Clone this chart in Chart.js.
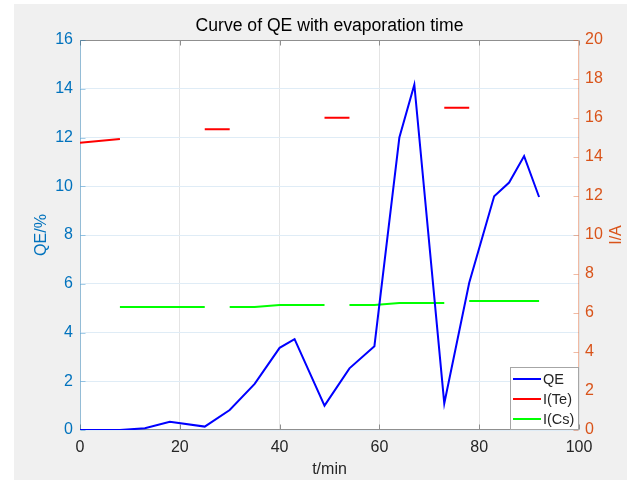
<!DOCTYPE html>
<html>
<head>
<meta charset="utf-8">
<script src="https://cdn.jsdelivr.net/npm/chart.js@4.4.1/dist/chart.umd.min.js"></script>
<style>
  html, body { margin: 0; padding: 0; background: #fff; }
  #wrap { width: 627px; height: 483px; }
</style>
</head>
<body>
<div id="wrap"><canvas id="qe-chart"></canvas></div>
<script>
// values
const qeTime  = [0, 8, 13, 18, 25, 30, 35, 40, 43, 49, 54, 59, 64, 67, 73, 78, 83, 86, 89, 92];
const qeValue = [0, 0, 0.07, 0.34, 0.14, 0.82, 1.89, 3.37, 3.73, 1.0, 2.53, 3.44, 12.0, 14.17, 1.09, 6.04, 9.59, 10.15, 11.24, 9.56];

// null = break in the line
const teTime  = [0, 8, 16, 25, 30, 40, 49, 54, 64, 73, 78];
const teValue = [14.73, 14.92, null, 15.42, 15.42, null, 16.02, 16.02, null, 16.53, 16.53];

const csTime  = [8, 13, 18, 25, 27, 30, 35, 40, 43, 49, 51, 54, 59, 64, 67, 73, 75, 78, 83, 86, 89, 92];
const csValue = [6.31, 6.31, 6.31, 6.31, null, 6.31, 6.31, 6.41, 6.41, 6.41, null, 6.41, 6.41, 6.51, 6.51, 6.51, null, 6.62, 6.62, 6.62, 6.62, 6.62];

const xTicks = [0, 20, 40, 60, 80, 100];
const leftTicks = [0, 2, 4, 6, 8, 10, 12, 14, 16];
const rightTicks = [0, 2, 4, 6, 8, 10, 12, 14, 16, 18, 20];

const leftColor = '#0072BD';
const rightColor = '#D95319';
const axisColor = '#262626';
const fontFamily = '"Liberation Sans", Arial, Helvetica, sans-serif';

const toPoints = (xs, ys) => xs.map((x, i) => ({ x: x, y: ys[i] }));

const figureBackground = {
  id: 'figureBackground',
  beforeDraw(chart) {
    const { ctx, chartArea: a } = chart;
    ctx.save();
    ctx.fillStyle = '#fff';
    ctx.fillRect(0, 0, chart.width, chart.height);
    ctx.fillStyle = '#f0f0f0';
    ctx.fillRect(14, 4, chart.width - 14, 476);
    ctx.fillStyle = '#fff';
    ctx.fillRect(a.left, a.top, a.right - a.left, a.bottom - a.top);
    ctx.restore();
  }
};

// matlab style box with inward ticks, plus the right label
const axesFrame = {
  id: 'axesFrame',
  beforeDatasetsDraw(chart) {
    const { ctx, chartArea: a, scales } = chart;
    const L = Math.round(a.left) + 0.5, R = Math.round(a.right) - 0.5;
    const T = Math.round(a.top) + 0.5, B = Math.round(a.bottom) - 0.5;
    ctx.save();
    ctx.lineWidth = 1;

    ctx.strokeStyle = '#8f8f8f';
    ctx.beginPath();
    ctx.moveTo(L, T); ctx.lineTo(R, T);
    ctx.moveTo(L, B); ctx.lineTo(R, B);
    xTicks.forEach(v => {
      const px = Math.round(scales.x.getPixelForValue(v)) + 0.5;
      ctx.moveTo(px, B); ctx.lineTo(px, B - 5);
      ctx.moveTo(px, T); ctx.lineTo(px, T + 5);
    });
    ctx.stroke();

    ctx.strokeStyle = 'rgba(0,114,189,0.35)';
    ctx.beginPath();
    ctx.moveTo(L, T); ctx.lineTo(L, B);
    leftTicks.forEach(v => {
      const py = Math.round(scales.y.getPixelForValue(v)) + 0.5;
      ctx.moveTo(L, py); ctx.lineTo(L + 5, py);
    });
    ctx.stroke();

    ctx.strokeStyle = 'rgba(217,83,25,0.4)';
    ctx.beginPath();
    ctx.moveTo(R, T); ctx.lineTo(R, B);
    rightTicks.forEach(v => {
      const py = Math.round(scales.y1.getPixelForValue(v)) + 0.5;
      ctx.moveTo(R, py); ctx.lineTo(R - 5, py);
    });
    ctx.stroke();

    // right y title reads bottom to top
    ctx.translate(617, (a.top + a.bottom) / 2);
    ctx.rotate(-Math.PI / 2);
    ctx.fillStyle = rightColor;
    ctx.font = '16px ' + fontFamily;
    ctx.textAlign = 'center';
    ctx.textBaseline = 'middle';
    ctx.fillText('I/A', 0, 0);
    ctx.restore();
  }
};

const insideLegend = {
  id: 'insideLegend',
  afterDatasetsDraw(chart) {
    const { ctx, chartArea: a } = chart;
    const w = 69, h = 63;
    const x0 = a.right - w, y0 = a.bottom - h;
    ctx.save();
    ctx.fillStyle = '#fff';
    ctx.fillRect(x0, y0, w, h);
    ctx.strokeStyle = '#a6a6a6';
    ctx.lineWidth = 1;
    ctx.strokeRect(Math.round(x0) + 0.5, Math.round(y0) + 0.5, w - 1, h - 1);
    ctx.font = '14.5px ' + fontFamily;
    ctx.textBaseline = 'middle';
    ctx.fillStyle = axisColor;
    chart.data.datasets.forEach((ds, i) => {
      const y = y0 + 12 + i * 20;
      ctx.strokeStyle = ds.borderColor;
      ctx.lineWidth = 2;
      ctx.beginPath();
      ctx.moveTo(x0 + 3, y); ctx.lineTo(x0 + 31, y);
      ctx.stroke();
      ctx.fillText(ds.label, x0 + 33, y + 1);
    });
    ctx.restore();
  }
};

const ctx = document.getElementById('qe-chart');

new Chart(ctx, {
  type: 'line',
  data: {
    datasets: [
      { label: 'QE', data: toPoints(qeTime, qeValue), yAxisID: 'y',
        borderColor: '#0000FF', borderWidth: 2 },
      { label: 'I(Te)', data: toPoints(teTime, teValue), yAxisID: 'y1',
        borderColor: '#FF0000', borderWidth: 2 },
      { label: 'I(Cs)', data: toPoints(csTime, csValue), yAxisID: 'y1',
        borderColor: '#00FF00', borderWidth: 2 }
    ]
  },
  options: {
    animation: false,
    responsive: true,
    maintainAspectRatio: false,
    spanGaps: false,
    elements: { point: { radius: 0 }, line: { tension: 0 } },
    layout: { padding: 0 },
    plugins: {
      legend: { display: false },
      tooltip: { enabled: false },
      title: {
        display: true,
        fullSize: false,
        text: 'Curve of QE with evaporation time',
        color: '#000',
        font: { family: fontFamily, size: 17.6, weight: 'normal' },
        padding: { top: 16, bottom: 2.9 }
      }
    },
    scales: {
      x: {
        type: 'linear', min: 0, max: 100,
        afterFit: s => { s.height = 53; },
        afterBuildTicks: s => { s.ticks = xTicks.map(v => ({ value: v })); },
        grid: { color: '#e4e4e4', drawTicks: false },
        border: { display: false },
        ticks: { color: axisColor, padding: 8, maxRotation: 0,
                 font: { family: fontFamily, size: 16 } },
        title: { display: true, text: 't/min', color: axisColor,
                 font: { family: fontFamily, size: 16 }, padding: { top: 0, bottom: 4 } }
      },
      y: {
        position: 'left', min: 0, max: 16,
        afterFit: s => { s.width = 80; },
        afterBuildTicks: s => { s.ticks = leftTicks.map(v => ({ value: v })); },
        grid: { color: '#dfecf6', drawTicks: false },
        border: { display: false },
        ticks: { color: leftColor, padding: 7,
                 font: { family: fontFamily, size: 16 } },
        title: { display: true, text: 'QE/%', color: leftColor,
                 font: { family: fontFamily, size: 16 }, padding: { top: 32, bottom: 0 } }
      },
      y1: {
        position: 'right', min: 0, max: 20,
        afterFit: s => { s.width = 48; },
        afterBuildTicks: s => { s.ticks = rightTicks.map(v => ({ value: v })); },
        grid: { drawOnChartArea: false, drawTicks: false },
        border: { display: false },
        ticks: { color: rightColor, padding: 6,
                 font: { family: fontFamily, size: 16 } }
      }
    }
  },
  plugins: [figureBackground, axesFrame, insideLegend]
});
</script>
</body>
</html>
